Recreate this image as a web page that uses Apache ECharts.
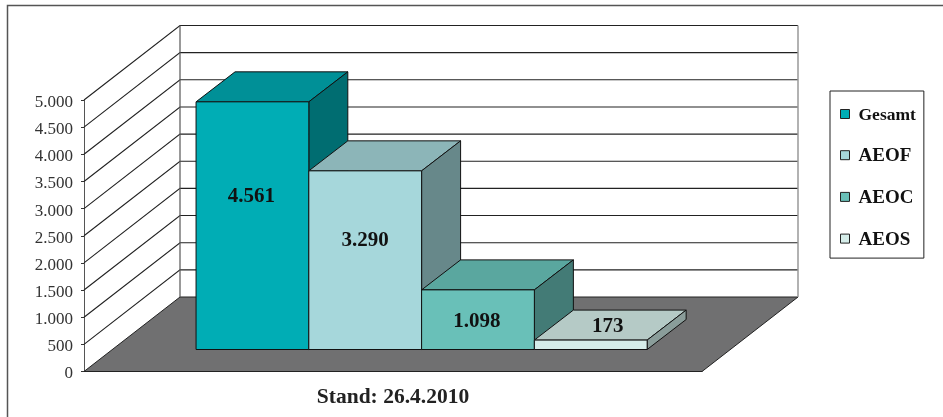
<!DOCTYPE html>
<html>
<head>
<meta charset="utf-8">
<style>html,body{margin:0;padding:0;background:#fff}#c{width:943px;height:417px}</style>
<script src="https://cdn.jsdelivr.net/npm/echarts@6/dist/echarts.min.js"></script>
</head>
<body>
<div id="c"></div>
<script>
const categories = ['Stand: 26.4.2010'];
const seriesNames = ['Gesamt', 'AEOF', 'AEOC', 'AEOS'];
const seriesValues = [4561, 3290, 1098, 173];
const yTicks = [0, 500, 1000, 1500, 2000, 2500, 3000, 3500, 4000, 4500, 5000];

const frontColors = ['#00adb5', '#a6d7db', '#69c0b8', '#d5ede9'];
const topColors = ['#009097', '#8cb5b8', '#5aa79f', '#b5cac6'];
const sideColors = ['#006d71', '#67888a', '#437b76', '#8a9d9a'];
const labelLift = [[-1, 30], [0, 21], [-1, -1], [17, 19]];

const FONT = '"Liberation Serif", serif';
const WALL = [96, -74.5];
const BAR_DEPTH = [39, -30];
const BAR_SHIFT = [28.6, -22];
const GAP = 0.74;
const fmt = v => String(v).replace(/\B(?=(\d{3})+$)/g, '.');

function poly(points, fill, stroke, z2) {
  return { type: 'polygon', z2: z2 || 0, shape: { points: points },
    style: { fill: fill, stroke: stroke || '#111', lineWidth: 1 } };
}
function floorItem(params, api) {
  const o = api.coord([0, 0]), band = api.size([1, 0])[0];
  const l = o[0] - band / 2, r = o[0] + band / 2, y = o[1];
  return { type: 'group', children: [
    poly([[l + WALL[0], y + WALL[1]], [r + WALL[0], y + WALL[1]], [r, y], [l, y]], '#707071', '#222')
  ] };
}
function gridItem(params, api) {
  const o = api.coord([0, 0]), band = api.size([1, 0])[0];
  const l = o[0] - band / 2, r = o[0] + band / 2;
  const y = api.coord([0, api.value(1)])[1];
  const kids = [{ type: 'polyline', shape: { points: [[l, y], [l + WALL[0], y + WALL[1]], [r + WALL[0], y + WALL[1]]] },
    style: { fill: null, stroke: '#222', lineWidth: 1.1 } }];
  return { type: 'group', children: kids };
}
function wallItem(params, api) {
  const o = api.coord([0, 0]), band = api.size([1, 0])[0];
  const t = api.coord([0, yTicks[yTicks.length - 1]])[1];
  const l = o[0] - band / 2 + WALL[0], r = o[0] + band / 2 + WALL[0];
  return { type: 'group', children: [
    { type: 'line', shape: { x1: l, y1: t + WALL[1], x2: l, y2: o[1] + WALL[1] }, style: { stroke: '#555', lineWidth: 1.2 } },
    { type: 'line', shape: { x1: r, y1: t + WALL[1], x2: r, y2: o[1] + WALL[1] }, style: { stroke: '#999', lineWidth: 1.5 } }
  ] };
}
function barItem(i) {
  return function (params, api) {
    const o = api.coord([0, 0]), band = api.size([1, 0])[0];
    const w = band / (seriesNames.length + 2 * GAP);
    const x0 = o[0] - band / 2 + (GAP + i) * w + BAR_SHIFT[0], x1 = x0 + w;
    const yb = o[1] + BAR_SHIFT[1];
    const yt = api.coord([0, api.value(1)])[1] + BAR_SHIFT[1];
    const dx = BAR_DEPTH[0], dy = BAR_DEPTH[1];
    return { type: 'group', children: [
      poly([[x0, yt], [x1, yt], [x1 + dx, yt + dy], [x0 + dx, yt + dy]], topColors[i]),
      poly([[x1, yt], [x1 + dx, yt + dy], [x1 + dx, yb + dy], [x1, yb]], sideColors[i]),
      poly([[x0, yb], [x1, yb], [x1, yt], [x0, yt]], frontColors[i]),
      { type: 'text', z2: 10, style: {
        x: (x0 + x1) / 2 + labelLift[i][0], y: (yt + yb) / 2 - labelLift[i][1] + 1,
        text: fmt(api.value(1)), align: 'center', verticalAlign: 'middle',
        font: 'bold 21px ' + FONT, fill: '#111' } }
    ] };
  };
}

const chart = echarts.init(document.getElementById('c'), null, { renderer: 'canvas' });
chart.setOption({
  animation: false,
  backgroundColor: '#fff',
  tooltip: { show: false },
  graphic: [{ type: 'rect', silent: true, z: -10, shape: { x: 7.5, y: 5.5, width: 1100, height: 800 },
    style: { fill: '#fff', stroke: '#555', lineWidth: 1.5 } }],
  grid: { left: 84, right: 241, top: 100, bottom: 45.5 },
  legend: {
    left: 830, top: 91, orient: 'vertical',
    data: seriesNames.map((n, i) => ({ name: n, icon: 'rect',
      itemStyle: { color: frontColors[i], borderColor: '#222', borderWidth: 1 } })),
    selectedMode: false,
    itemWidth: 9, itemHeight: 9, itemGap: 22.7,
    padding: [15, 8, 9, 10],
    backgroundColor: '#fff', borderColor: '#222', borderWidth: 1,
    formatter: n => n === 'Gesamt' ? '{g|' + n + '}' : '{n|' + n + '}',
    textStyle: { rich: {
      g: { fontFamily: FONT, fontWeight: 'bold', fontSize: 17.5, color: '#111', padding: [2, 0, 0, 4], height: 16 },
      n: { fontFamily: FONT, fontWeight: 'bold', fontSize: 19, color: '#111', padding: [2, 0, 0, 4], height: 16 }
    } }
  },
  xAxis: {
    type: 'category', data: categories,
    axisLine: { show: true, lineStyle: { color: '#111', width: 1 } },
    axisTick: { show: false },
    axisLabel: { fontFamily: FONT, fontWeight: 'bold', fontSize: 21.5, color: '#222', margin: 15 }
  },
  yAxis: {
    type: 'value', min: 0, max: 5000, interval: 500,
    axisLine: { show: true, lineStyle: { color: '#555', width: 1 } },
    axisTick: { show: true, length: 3, lineStyle: { color: '#333' } },
    splitLine: { show: false },
    axisLabel: { fontFamily: FONT, fontSize: 17, color: '#333', margin: 11, verticalAlign: 'top', lineHeight: 5, formatter: fmt }
  },
  series: [
    { type: 'custom', name: 'floor', silent: true, z: 1, data: [[0, 0]], renderItem: floorItem },
    { type: 'custom', name: 'grid', silent: true, z: 1, data: yTicks.slice(1).map(v => [0, v]), renderItem: gridItem },
    { type: 'custom', name: 'walls', silent: true, z: 1, data: [[0, 0]], renderItem: wallItem }
  ].concat(seriesNames.map((n, i) => ({
    type: 'custom', name: n, z: 2, silent: true,
    data: [[0, seriesValues[i]]], encode: { x: 0, y: 1 }, renderItem: barItem(i)
  })))
});
</script>
</body>
</html>
